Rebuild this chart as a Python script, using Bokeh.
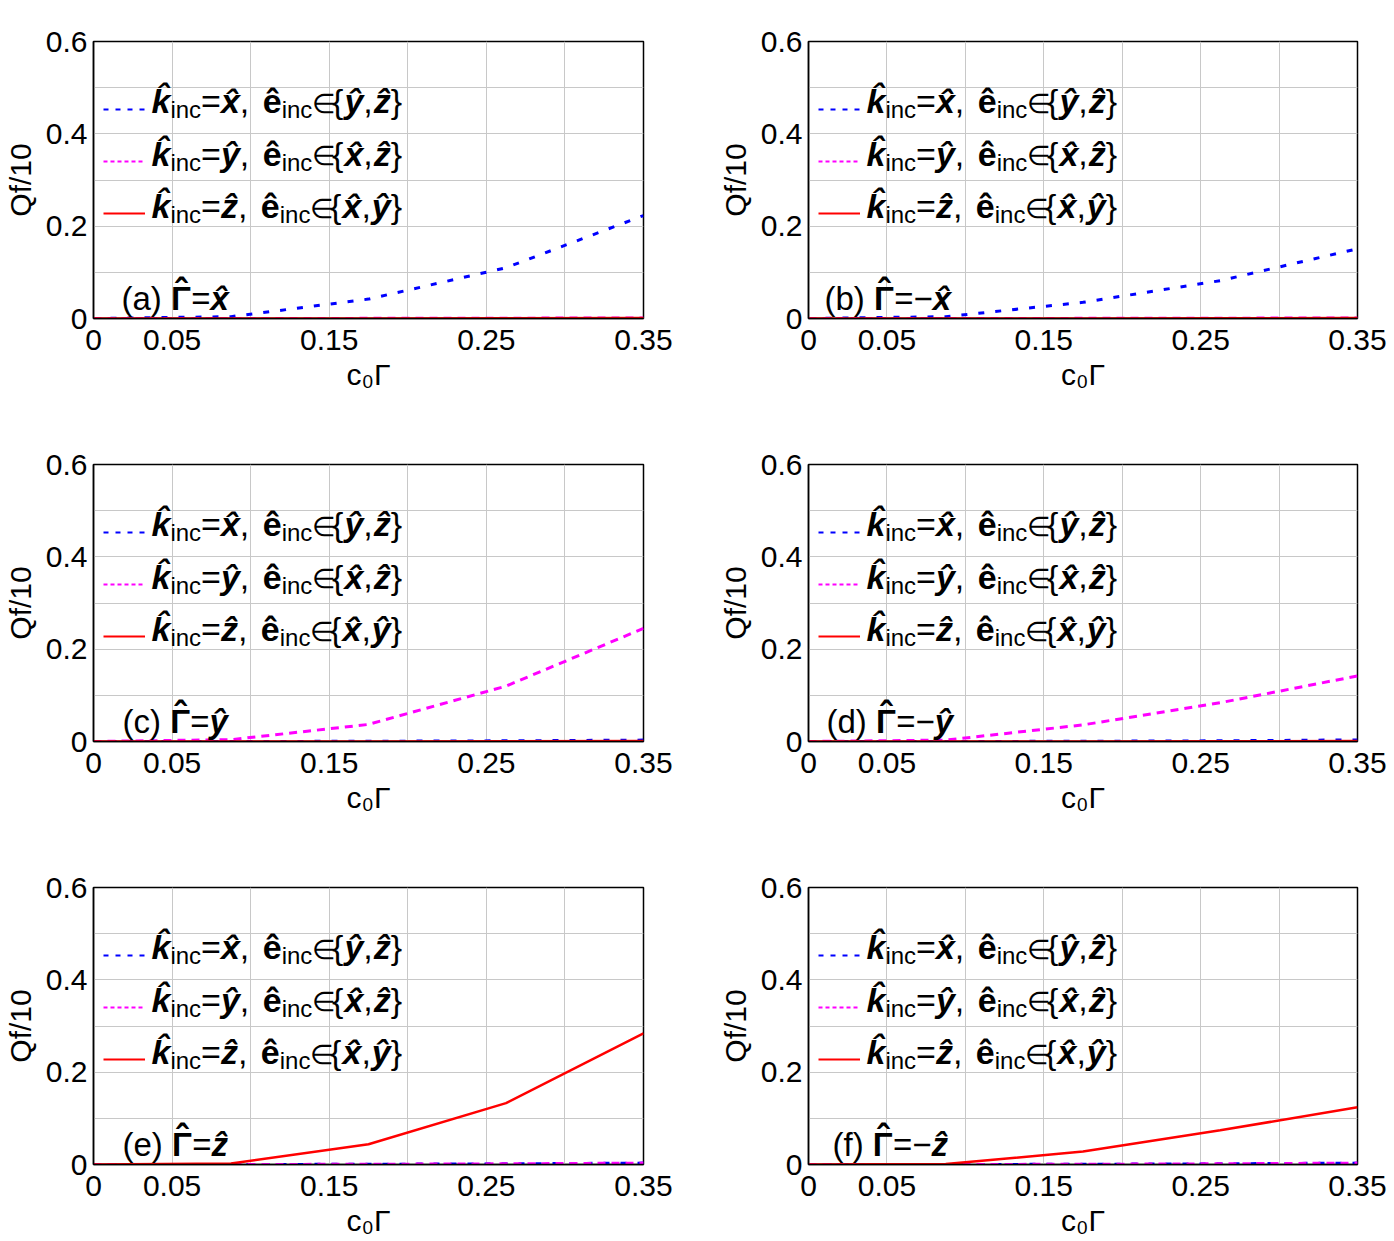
import numpy as np
from bokeh.plotting import figure
from bokeh.models import Label, Legend, LegendItem, FixedTicker, Range1d
from bokeh.layouts import gridplot
from bokeh.core.properties import value
from bokeh.embed import file_html
from bokeh.resources import INLINE

# ---------------- data ----------------
c0_gamma = [0.0, 0.0875, 0.175, 0.2625, 0.35]

# (a) Gamma = +x
a_kx = [0.0, 0.004, 0.042, 0.110, 0.223]
a_ky = [0.0, 0.0, 0.0003, 0.0007, 0.0012]
a_kz = [0.0, 0.0, 0.0002, 0.0005, 0.0009]
# (b) Gamma = -x
b_kx = [0.0, 0.004, 0.035, 0.082, 0.151]
b_ky = [0.0, 0.0, 0.0003, 0.0007, 0.0012]
b_kz = [0.0, 0.0, 0.0002, 0.0005, 0.0009]
# (c) Gamma = +y
c_kx = [0.0, 0.0, 0.0005, 0.0015, 0.0030]
c_ky = [0.0, 0.004, 0.037, 0.120, 0.245]
c_kz = [0.0, 0.0, 0.0002, 0.0005, 0.0010]
# (d) Gamma = -y
d_kx = [0.0, 0.0, 0.0005, 0.0015, 0.0035]
d_ky = [0.0, 0.003, 0.036, 0.084, 0.142]
d_kz = [0.0, 0.0, 0.0002, 0.0005, 0.0010]
# (e) Gamma = +z
e_kx = [0.0, 0.0, 0.0005, 0.0015, 0.0030]
e_ky = [0.0, 0.0, 0.0005, 0.0015, 0.0030]
e_kz = [0.0, 0.002, 0.044, 0.133, 0.284]
# (f) Gamma = -z
f_kx = [0.0, 0.0, 0.0005, 0.0015, 0.0030]
f_ky = [0.0, 0.0, 0.0005, 0.0015, 0.0030]
f_kz = [0.0, 0.001, 0.028, 0.074, 0.124]

x_ticks = [0.0, 0.05, 0.10, 0.15, 0.20, 0.25, 0.30, 0.35]
x_tick_labels = {0.0: "0", 0.05: "0.05", 0.10: "", 0.15: "0.15", 0.20: "",
                 0.25: "0.25", 0.30: "", 0.35: "0.35"}
y_ticks = [0.0, 0.1, 0.2, 0.3, 0.4, 0.5, 0.6]
y_tick_labels = {0.0: "0", 0.1: "", 0.2: "0.2", 0.3: "", 0.4: "0.4", 0.5: "", 0.6: "0.6"}

x_title = "c\u2080\u0393"
y_title = "Qf/10"

panel_tags = ["(a) ", "(b) ", "(c) ", "(d) ", "(e) ", "(f) "]
panel_signs = ["=", "=\u2212", "=", "=\u2212", "=", "=\u2212"]
panel_axes = ["x\u0302", "x\u0302", "\u0177", "\u0177", "\u1e91", "\u1e91"]
panel_tag_x = [28, 16, 29, 18, 29, 24]

series = [
    (a_kx, a_ky, a_kz), (b_kx, b_ky, b_kz), (c_kx, c_ky, c_kz),
    (d_kx, d_ky, d_kz), (e_kx, e_ky, e_kz), (f_kx, f_ky, f_kz),
]

# ---------------- styling ----------------
FONT = "Liberation Sans"
BLUE, MAGENTA, RED = "#0000ff", "#ff00ff", "#ff0000"
NAN = [float("nan")]

W = {  # Arial-compatible advance widths (em)
    "(": .333, ")": .333, "a": .556, "b": .556, "c": .5, "d": .556, "e": .556,
    "f": .278, " ": .278, "=": .584, ",": .278, "{": .334, "}": .334,
    "\u2208": .73, "\u2212": .584, "i": .222, "n": .556, "0": .556, "Q": .778,
    "/": .278, "1": .556, "\u0393": .611, "k": .556, "x": .556, "y": .556,
    "z": .5, "\u00ea": .556, "\u0177": .556, "\u1e91": .5, "\u02c6": .333,
}


def text_width(s, size):
    return sum(W.get(ch, 0.0) for ch in s) * size


def add_label(p, txt, x, base, size, style="normal"):
    # vertical centre of the text box lies 0.3465 em above the baseline
    p.add_layout(Label(x=x, y=base + 0.3465 * size, x_units="screen", y_units="screen",
                       text=txt, text_font=FONT, text_font_size=f"{size}px",
                       text_font_style=style, text_color="black",
                       text_align="left", text_baseline="middle"))


def place(p, segs, x0, y0):
    """segs: (text, style, size, dy, gap_after)"""
    x = x0
    for txt, style, size, dy, gap in segs:
        add_label(p, txt, x, y0 + dy, size, style)
        x += text_width(txt, size) + gap


F, S, DROP = 34, 24, 5
vec_k = "k\u0302"
vec_e = "\u00ea"
hx, hy, hz = "x\u0302", "\u0177", "\u1e91"

legend_rows = [
    (hx, hy, hz),
    (hy, hx, hz),
    (hz, hx, hy),
]


def legend_segs(kdir, e1, e2):
    return [
        (vec_k, "bold italic", F, 0, 0),
        ("inc", "normal", S, -DROP, 0),
        ("=", "normal", F, 0, 0),
        (kdir, "bold italic", F, 0, 0),
        (", ", "normal", F, 0, 4),
        (vec_e, "bold", F, 0, 0),
        ("inc", "normal", S, -DROP, 0),
        ("\u2208", "normal", 27, 0, 0),
        ("{", "normal", F, 0, 1),
        (e1, "bold italic", F, 0, 0),
        (",", "normal", F, 0, 1),
        (e2, "bold italic", F, 0, 0),
        ("}", "normal", F, 0, 0),
    ]


FRAME_W, FRAME_H = 553, 277


def make_panel(i):
    left = (i % 2 == 0)
    rowi = i // 2
    width = 715 if left else 679
    height = [431, 423, 387][rowi]
    p = figure(width=width, height=height, output_backend="svg",
               toolbar_location=None,
               x_range=Range1d(0, 0.35), y_range=Range1d(0, 0.6),
               min_border_left=90 if left else 89,
               min_border_right=72 if left else 37,
               min_border_top=41 if rowi == 0 else 33,
               min_border_bottom=[113, 113, 77][rowi])
    p.background_fill_color = "white"
    p.border_fill_color = "white"
    p.outline_line_color = "black"
    p.outline_line_width = 1.5

    for ax, ticks, labels in ((p.xaxis[0], x_ticks, x_tick_labels),
                              (p.yaxis[0], y_ticks, y_tick_labels)):
        ax.ticker = FixedTicker(ticks=ticks)
        ax.major_label_overrides = labels
        ax.major_tick_line_color = None
        ax.minor_tick_line_color = None
        ax.axis_line_color = "black"
        ax.axis_line_width = 1.5
        ax.major_label_text_font = FONT
        ax.major_label_text_font_size = "30px"
        ax.major_label_text_color = "black"
        ax.axis_label_text_font = FONT
        ax.axis_label_text_font_size = "30px"
        ax.axis_label_text_font_style = "normal"
        ax.axis_label_text_color = "black"
    p.xaxis.axis_label = x_title
    p.yaxis.axis_label = y_title
    p.xaxis.major_label_standoff = 5
    p.xaxis.axis_label_standoff = 5
    p.yaxis.major_label_standoff = 0
    p.yaxis.axis_label_standoff = 6

    p.xgrid.ticker = FixedTicker(ticks=x_ticks)
    p.ygrid.ticker = FixedTicker(ticks=y_ticks)
    p.grid.grid_line_color = "#c8c8c8"
    p.grid.grid_line_width = 1

    kx, ky, kz = series[i]
    p.line(c0_gamma, kx, line_color=BLUE, line_width=3, line_dash="6 11")
    p.line(c0_gamma, ky, line_color=MAGENTA, line_width=3, line_dash="8 6")
    p.line(c0_gamma, kz, line_color=RED, line_width=2.5)

    # legend keys: renderers with no visible points, used only for the key
    lb = p.line(NAN, NAN, line_color=BLUE, line_width=2, line_dash="5 7")
    lm = p.line(NAN, NAN, line_color=MAGENTA, line_width=2, line_dash="4 3")
    lr = p.line(NAN, NAN, line_color=RED, line_width=2)
    RH = 52
    leg = Legend(items=[LegendItem(label=value(" "), renderers=[r]) for r in (lb, lm, lr)],
                 location=(10, FRAME_H - 68 + RH / 2 - 3 * RH),
                 orientation="vertical", padding=0, margin=0, spacing=0,
                 glyph_width=42, glyph_height=RH, label_height=RH,
                 label_standoff=0, label_width=0, label_text_font_size="1px",
                 border_line_color=None, background_fill_alpha=0)
    p.add_layout(leg)

    for r, (kd, e1, e2) in enumerate(legend_rows):
        base = FRAME_H - (71.7 + r * 52.5)
        place(p, legend_segs(kd, e1, e2), 58, base)

    # panel tag
    x0 = panel_tag_x[i]
    y0 = 8.5
    xg = x0 + text_width(panel_tags[i], 33)
    place(p, [(panel_tags[i], "normal", 33, 0, 0),
              ("\u0393", "bold", 33, 0, 0),
              (panel_signs[i], "normal", 33, 0, 0),
              (panel_axes[i], "bold italic", 33, 0, 0)], x0, y0)
    hat_x = xg + (0.611 * 33) / 2 - (0.333 * 36) / 2
    add_label(p, "\u02c6", hat_x, y0 + 6, 36, "bold")
    return p


panels = [make_panel(i) for i in range(6)]
layout = gridplot([[panels[0], panels[1]], [panels[2], panels[3]],
                   [panels[4], panels[5]]], toolbar_location=None)

open("out.html", "w").write(file_html(layout, INLINE))
